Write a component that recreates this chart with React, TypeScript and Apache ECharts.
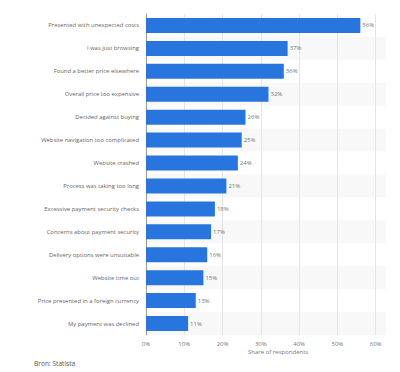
import React, { useEffect, useRef } from "react";
import * as echarts from "echarts";

const categories = [
  "Presented with unexpected costs",
  "I was just browsing",
  "Found a better price elsewhere",
  "Overall price too expensive",
  "Decided against buying",
  "Website navigation too complicated",
  "Website crashed",
  "Process was taking too long",
  "Excessive payment security checks",
  "Concerns about payment security",
  "Delivery options were unsuitable",
  "Website time out",
  "Price presented in a foreign currency",
  "My payment was declined",
];
const values = [56, 37, 36, 32, 26, 25, 24, 21, 18, 17, 16, 15, 13, 11];
const axisTitle = "Share of respondents";
const sourceText = "Bron: Statista";

const FONT = "'Open Sans', 'DejaVu Sans', sans-serif";

export default function App() {
  const ref = useRef<HTMLDivElement>(null);
  useEffect(() => {
    document.body.style.margin = "0";
    const chart = echarts.init(ref.current!, null, { renderer: "svg" });
    chart.setOption({
      animation: false,
      backgroundColor: "#ffffff",
      textStyle: { fontFamily: FONT },
      grid: { left: 146, right: 14, top: 14, bottom: 37, containLabel: false },
      xAxis: {
        type: "value",
        min: 0,
        max: 62.7,
        interval: 10,
        axisLine: { show: false },
        axisTick: { show: false },
        axisLabel: {
          formatter: "{value}%",
          color: "#777",
          fontSize: 6,
          fontFamily: FONT,
          margin: 6,
          showMaxLabel: false,
        },
        splitLine: {
          show: true,
          showMaxLine: false,
          lineStyle: { color: "#e5e5e5", width: 1 },
        },
      },
      yAxis: {
        type: "category",
        data: categories,
        inverse: true,
        axisLine: { show: true, lineStyle: { color: "#999", width: 1 } },
        axisTick: { show: false },
        axisLabel: { color: "#666", fontSize: 5.9, fontFamily: FONT, margin: 7 },
        splitArea: {
          show: true,
          areaStyle: { color: ["rgba(255,255,255,0)", "#f8f8f8"] },
        },
      },
      series: [
        {
          type: "bar",
          data: values,
          barWidth: 15,
          itemStyle: { color: "#2876dd" },
          label: {
            show: true,
            position: "right",
            distance: 2,
            formatter: "{c}%",
            color: "#777",
            fontSize: 6,
            fontFamily: FONT,
          },
        },
      ],
      graphic: [
        {
          type: "text",
          left: 248,
          top: 349,
          style: { text: axisTitle, fill: "#777", fontSize: 6, fontFamily: FONT },
        },
        {
          type: "text",
          left: 34,
          top: 360,
          style: { text: sourceText, fill: "#555", fontSize: 6.6, fontFamily: FONT },
        },
      ],
    });
    return () => chart.dispose();
  }, []);
  return (
    <div
      ref={ref}
      style={{ position: "absolute", left: 0, top: 0, width: 400, height: 372 }}
    />
  );
}
